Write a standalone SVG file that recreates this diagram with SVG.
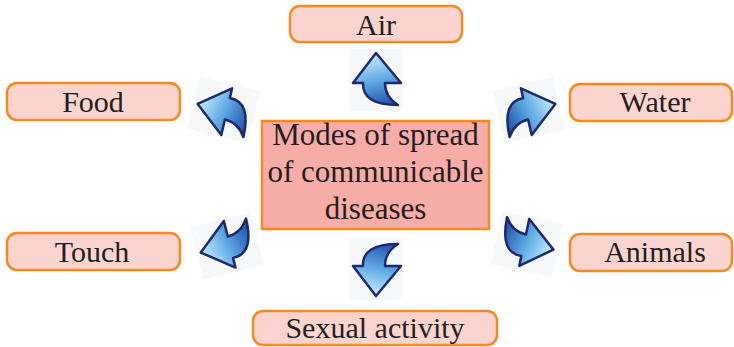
<svg xmlns="http://www.w3.org/2000/svg" width="734" height="347" viewBox="0 0 734 347">
<style>
.lbl{fill:#fcd4cf;stroke:#f58a1f;stroke-width:2.5}
.ctr{fill:#f8aca7;stroke:#f58a1f;stroke-width:2.5}
text{font-family:"Liberation Serif","Times New Roman",serif;fill:#231f20;text-anchor:middle}
.t{font-size:30px}
.c{font-size:31px}
.tile{fill:#f7f8fa}
.arr{fill:url(#ag);stroke:#1f2a6e;stroke-width:2.5;stroke-linejoin:round}
</style>
<defs>
<linearGradient id="ag" gradientUnits="userSpaceOnUse" x1="0" y1="-22" x2="12" y2="26">
<stop offset="0" stop-color="#b4e2f9"/>
<stop offset="0.45" stop-color="#5fa9e4"/>
<stop offset="1" stop-color="#1f4fa8"/>
</linearGradient>
<g id="ca">
<rect class="tile" x="-27" y="-31" width="54" height="62"/>
<path class="arr" d="M0,-27 L25,3 L9,3 Q9,17 22,25 Q-14,25 -13,3 L-23,3 Z"/>
</g>
</defs>
<g id="connectors">
<use href="#ca" transform="translate(376,80)"/>
<use href="#ca" transform="translate(376,269) scale(1,-1)"/>
<use href="#ca" transform="translate(224,110) rotate(-77) scale(-1,1)"/>
<use href="#ca" transform="translate(529,110) rotate(77)"/>
<use href="#ca" transform="translate(227,246) rotate(-104)"/>
<use href="#ca" transform="translate(527,244) rotate(102) scale(-1,1)"/>
</g>
<g id="center">
<rect class="ctr" x="262" y="121" width="227" height="108"/>
<text class="c" x="375.5" y="145">Modes of spread</text>
<text class="c" x="375.5" y="182">of communicable</text>
<text class="c" x="375.5" y="219">diseases</text>
</g>
<g id="air">
<rect class="lbl" x="290" y="6" width="172" height="36" rx="10"/>
<text class="t" x="376" y="35">Air</text>
</g>
<g id="food">
<rect class="lbl" x="7" y="83" width="173" height="37" rx="10"/>
<text class="t" x="93" y="112">Food</text>
</g>
<g id="water">
<rect class="lbl" x="570" y="84" width="162" height="37" rx="10"/>
<text class="t" x="655" y="112">Water</text>
</g>
<g id="touch">
<rect class="lbl" x="7" y="233" width="173" height="37" rx="10"/>
<text class="t" x="92" y="262">Touch</text>
</g>
<g id="animals">
<rect class="lbl" x="570" y="234" width="162" height="37" rx="10"/>
<text class="t" x="655" y="262">Animals</text>
</g>
<g id="sexual">
<rect class="lbl" x="253" y="311" width="244" height="34" rx="10"/>
<text class="t" x="375" y="338">Sexual activity</text>
</g>
</svg>
